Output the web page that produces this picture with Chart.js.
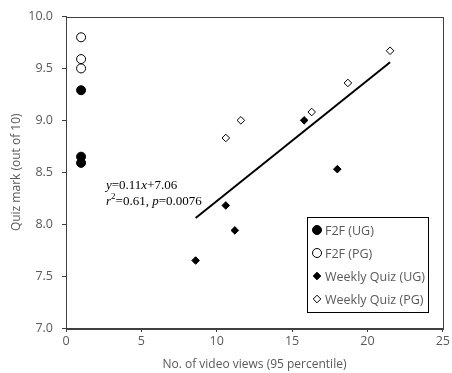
<!DOCTYPE html>
<html>
<head>
<meta charset="utf-8">
<script src="https://cdn.jsdelivr.net/npm/chart.js@4"></script>
<style>
  html, body { margin: 0; padding: 0; background: #fff; }
  #wrap { width: 452px; height: 373px; }
</style>
</head>
<body>
<div id="wrap"><canvas id="myChart" width="452" height="373"></canvas></div>
<script>
// data
let f2fUgX = [1, 1, 1];
let f2fUgY = [9.29, 8.65, 8.59];
let f2fPgX = [1, 1, 1];
let f2fPgY = [9.80, 9.59, 9.50];
let weeklyUgX = [8.6, 10.6, 11.2, 15.8, 18.0];
let weeklyUgY = [7.65, 8.18, 7.94, 9.00, 8.53];
let weeklyPgX = [10.6, 11.6, 16.3, 18.7, 21.5];
let weeklyPgY = [8.83, 9.00, 9.08, 9.36, 9.67];
let trendX = [8.6, 21.5];
let trendY = [8.06, 9.56];

let xTicks = [0, 5, 10, 15, 20, 25];
let yTicks = [7.0, 7.5, 8.0, 8.5, 9.0, 9.5, 10.0];

let labelColor = '#595959';
let uiFont = "'Open Sans', sans-serif";

let toPoints = function (xs, ys) {
    let pts = [];
    for (let i = 0; i < xs.length; i++) {
        pts.push({ x: xs[i], y: ys[i] });
    }
    return pts;
}

// frame round the plot area, the equation text and the legend box
let framePlugin = {
    id: 'frame',
    afterDraw: function (chart) {
        const ctx = chart.ctx;
        const a = chart.chartArea;
        ctx.save();
        ctx.strokeStyle = '#404040';
        ctx.lineWidth = 1;
        ctx.strokeRect(Math.round(a.left) + 0.5, Math.round(a.top) + 0.5,
            Math.round(a.right - a.left), Math.round(a.bottom - a.top));

        // equation
        ctx.fillStyle = '#000';
        ctx.textBaseline = 'middle';
        let tx = a.left + 40;
        let parts1 = [['y', true], ['=0.11', false], ['x', true], ['+7.06', false]];
        let cx = tx;
        parts1.forEach(function (p) {
            ctx.font = (p[1] ? 'italic ' : '') + "13px 'Liberation Serif', serif";
            ctx.fillText(p[0], cx, 186);
            cx += ctx.measureText(p[0]).width;
        });
        cx = tx;
        let parts2 = [['r', true, 0], ['2', false, -5], ['=0.61, ', false, 0], ['p', true, 0], ['=0.0076', false, 0]];
        parts2.forEach(function (p) {
            let size = p[2] ? 9 : 13;
            ctx.font = (p[1] ? 'italic ' : '') + size + "px 'Liberation Serif', serif";
            ctx.fillText(p[0], cx, 202 + p[2]);
            cx += ctx.measureText(p[0]).width;
        });

        // legend box
        let lx = 307, ly = 217, lw = 121, lh = 95;
        ctx.fillStyle = '#fff';
        ctx.fillRect(lx, ly, lw, lh);
        ctx.strokeStyle = '#000';
        ctx.strokeRect(lx + 0.5, ly + 0.5, lw, lh);
        ctx.font = '12.5px ' + uiFont;
        chart.data.datasets.forEach(function (ds, i) {
            if (ds.hideLegend) return;
            let yy = ly + 13 + i * 23;
            ctx.save();
            ctx.fillStyle = ds.backgroundColor;
            ctx.strokeStyle = ds.borderColor;
            ctx.lineWidth = ds.borderWidth;
            Chart.helpers.drawPoint(ctx, {
                pointStyle: ds.pointStyle,
                radius: ds.pointRadius,
                borderWidth: ds.borderWidth,
                rotation: 0
            }, lx + 10, yy);
            ctx.restore();
            ctx.fillStyle = labelColor;
            ctx.textBaseline = 'middle';
            ctx.fillText(ds.label, lx + 18, yy + 1);
        });
        ctx.restore();
    }
}

const ctx = document.getElementById('myChart').getContext('2d');
var myChart = new Chart(ctx, {
    type: 'scatter',
    data: {
        datasets: [{
            label: 'F2F (UG)',
            data: toPoints(f2fUgX, f2fUgY),
            pointStyle: 'circle',
            pointRadius: 4.5,
            backgroundColor: '#000',
            borderColor: '#000',
            borderWidth: 1
        }, {
            label: 'F2F (PG)',
            data: toPoints(f2fPgX, f2fPgY),
            pointStyle: 'circle',
            pointRadius: 4.5,
            backgroundColor: '#fff',
            borderColor: '#000',
            borderWidth: 1
        }, {
            label: 'Weekly Quiz (UG)',
            data: toPoints(weeklyUgX, weeklyUgY),
            pointStyle: 'rectRot',
            pointRadius: 3.8,
            backgroundColor: '#000',
            borderColor: '#000',
            borderWidth: 1
        }, {
            label: 'Weekly Quiz (PG)',
            data: toPoints(weeklyPgX, weeklyPgY),
            pointStyle: 'rectRot',
            pointRadius: 3.8,
            backgroundColor: '#fff',
            borderColor: '#000',
            borderWidth: 1
        }, {
            type: 'line',
            label: 'trend',
            hideLegend: true,
            data: toPoints(trendX, trendY),
            borderColor: '#000',
            borderWidth: 2,
            pointRadius: 0,
            fill: false,
            tension: 0
        }]
    },
    options: {
        responsive: false,
        animation: false,
        layout: { padding: { left: 0, right: 7, top: 16, bottom: 0 } },
        plugins: {
            legend: { display: false },
            tooltip: { enabled: false }
        },
        scales: {
            x: {
                type: 'linear',
                min: 0,
                max: 25,
                afterBuildTicks: function (scale) {
                    scale.ticks = xTicks.map(function (v) { return { value: v }; });
                },
                afterFit: function (scale) { scale.height = 45; },
                grid: { display: true, drawOnChartArea: false, drawTicks: true, tickLength: 4, color: '#404040' },
                border: { color: '#404040', width: 1 },
                ticks: { color: labelColor, font: { family: uiFont, size: 12.5 }, padding: 2 },
                title: {
                    display: true,
                    text: 'No. of video views (95 percentile)',
                    color: labelColor,
                    font: { family: uiFont, size: 12 },
                    padding: { top: 4, bottom: 1 }
                }
            },
            y: {
                type: 'linear',
                min: 7,
                max: 10,
                afterBuildTicks: function (scale) {
                    scale.ticks = yTicks.map(function (v) { return { value: v }; });
                },
                afterFit: function (scale) { scale.width = 66; },
                grid: { display: true, drawOnChartArea: false, drawTicks: true, tickLength: 4, color: '#404040' },
                border: { color: '#404040', width: 1 },
                ticks: {
                    color: labelColor,
                    font: { family: uiFont, size: 12.5 },
                    padding: 9,
                    callback: function (v) { return v.toFixed(1); }
                },
                title: {
                    display: true,
                    text: 'Quiz mark (out of 10)',
                    color: labelColor,
                    font: { family: uiFont, size: 12 },
                    padding: { top: 9, bottom: 4 }
                }
            }
        }
    },
    plugins: [framePlugin]
});
</script>
</body>
</html>
